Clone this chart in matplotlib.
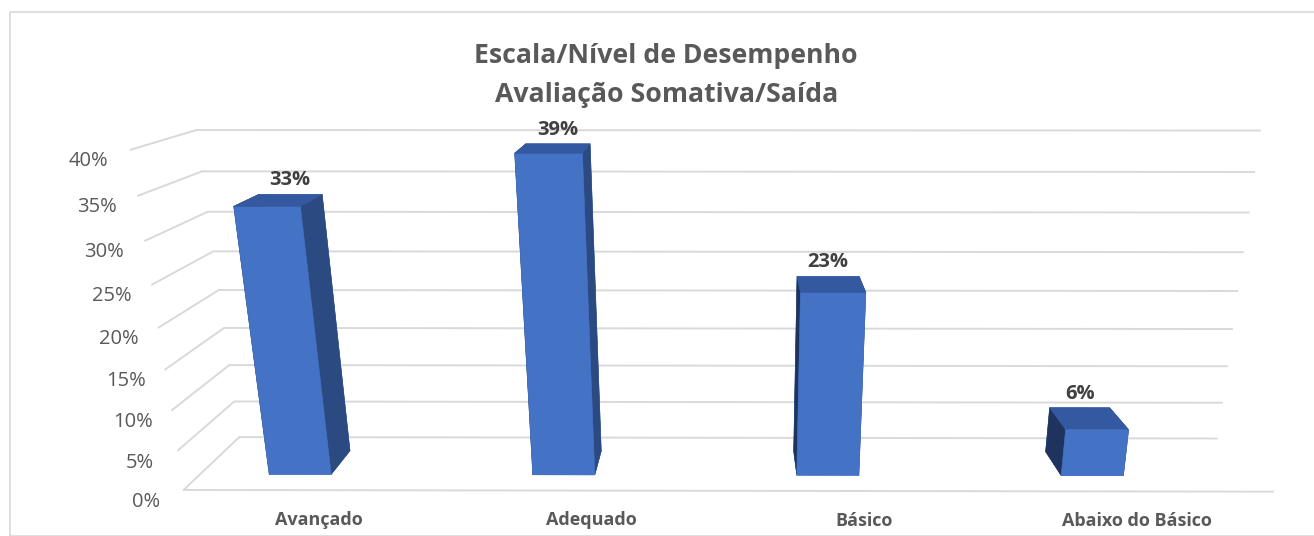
import matplotlib
matplotlib.use('Agg')
import matplotlib.pyplot as plt
import numpy as np
from matplotlib.patches import Rectangle

categories = ['Avançado', 'Adequado', 'Básico', 'Abaixo do Básico']
values = [33, 39, 23, 6]
value_labels = ['33%', '39%', '23%', '6%']
zticks = [0, 5, 10, 15, 20, 25, 30, 35, 40]
zticklabels = ['0%', '5%', '10%', '15%', '20%', '25%', '30%', '35%', '40%']
title = 'Escala/Nível de Desempenho\nAvaliação Somativa/Saída'

plt.rcParams['font.family'] = ['Open Sans', 'DejaVu Sans']

fig = plt.figure(figsize=(13.14, 5.36), dpi=100)
ax = fig.add_axes([0.049, -0.012, 1.0, 0.85], projection='3d')

n = len(categories)
xpos = np.arange(n)
dx, dy = 0.235, 0.45
x0 = -0.38  # floor starts a little left of the first bar
front_c, top_c, left_c, right_c = '#4472C4', '#3459A0', '#1E345E', '#2C4A82'
face_colors = []
for _ in range(n):
    face_colors += [front_c, top_c, front_c, front_c, left_c, right_c]

bars = ax.bar3d(xpos - dx / 2, np.full(n, 0.5 - dy / 2), np.zeros(n), dx, dy, values,
                color=face_colors, shade=False, edgecolor=face_colors, linewidth=0.4)
bars.set_clip_on(False)

for x, v, lab in zip(xpos, values, value_labels):
    ax.text(x, 0.5 + dy / 2, v + 0.5, lab, ha='center', va='bottom', fontsize=14.5,
            fontweight='bold', color='#404040')

ax.set_xlim(x0, n + x0)
ax.set_ylim(0, 1)
ax.set_zlim(0, 40)
ax.set_xticks(xpos + (0.5 + x0))
ax.set_xticklabels(categories, fontsize=13, fontweight='bold', color='#595959')
ax.set_yticks([])
ax.set_zticks(zticks)
ax.set_zticklabels(zticklabels, fontsize=14.5, color='#595959')
ax.zaxis.set_ticks_position('lower')
ax.tick_params(axis='x', pad=1.5)
ax.tick_params(axis='z', pad=-2.5)

for axis in (ax.xaxis, ax.yaxis, ax.zaxis):
    axis.set_pane_color((1, 1, 1, 0))
    axis._axinfo['tick']['inward_factor'] = 0
    axis._axinfo['tick']['outward_factor'] = 0
for axis in (ax.xaxis, ax.yaxis):
    axis._axinfo['grid']['color'] = (1, 1, 1, 0)
ax.zaxis._axinfo['grid']['color'] = '#d9d9d9'
ax.zaxis._axinfo['grid']['linewidth'] = 1.4
ax.xaxis.line.set_color('#d9d9d9')
ax.xaxis.line.set_linewidth(1.4)
ax.yaxis.line.set_color((1, 1, 1, 0))
ax.zaxis.line.set_color((1, 1, 1, 0))

ax.set_proj_type('persp', focal_length=0.45)
ax.view_init(elev=17, azim=-89.8)
ax.set_box_aspect((4.15, 0.5, 1.3), zoom=2.42)

fig.text(0.507, 0.859, title, ha='center', va='center', fontsize=19.2,
         fontweight='bold', color='#595959', linespacing=1.65)

fig.patches.append(Rectangle((10 / 1314, 0), 1.2, 1 - 12 / 536, transform=fig.transFigure,
                             fill=False, edgecolor='#d9d9d9', linewidth=1.2, clip_on=False))

fig.savefig('out.png', dpi=100)
